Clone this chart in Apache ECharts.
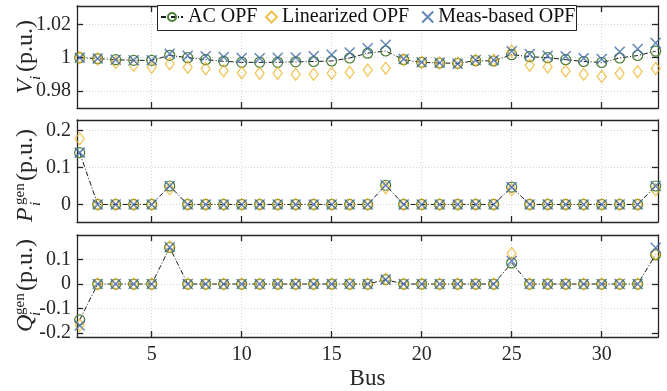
<!DOCTYPE html>
<html><head><meta charset="utf-8">
<script src="https://cdn.jsdelivr.net/npm/echarts@6/dist/echarts.min.js"></script>
<style>html,body{margin:0;padding:0;background:#fff}#c{width:667px;height:391px}</style>
</head><body><div id="c"></div>
<script>
const buses = [1,2,3,4,5,6,7,8,9,10,11,12,13,14,15,16,17,18,19,20,21,22,23,24,25,26,27,28,29,30,31,32,33];
const seriesNames = ['AC OPF', 'Linearized OPF', 'Meas-based OPF'];

// Panel 1: voltage magnitude (p.u.)
const acV   = [1.0000,0.9994,0.9988,0.9984,0.9984,1.0014,1.0000,0.9988,0.9978,0.9972,0.9972,0.9972,0.9975,0.9977,0.9980,0.9998,1.0027,1.0040,0.9988,0.9972,0.9968,0.9966,0.9982,0.9980,1.0018,1.0006,1.0000,0.9988,0.9977,0.9971,0.9998,1.0013,1.0039];
const linV  = [0.9999,0.9992,0.9971,0.9954,0.9943,0.9963,0.9943,0.9933,0.9922,0.9909,0.9907,0.9906,0.9901,0.9901,0.9906,0.9912,0.9926,0.9936,0.9988,0.9972,0.9968,0.9966,0.9984,0.9984,1.0040,0.9955,0.9944,0.9920,0.9901,0.9887,0.9905,0.9915,0.9935];
const measV = [1.0000,0.9995,0.9988,0.9984,0.9984,1.0024,1.0011,1.0008,1.0004,0.9998,0.9996,1.0000,1.0001,1.0008,1.0018,1.0031,1.0056,1.0077,0.9992,0.9973,0.9969,0.9964,0.9986,0.9986,1.0038,1.0022,1.0012,1.0008,0.9996,0.9992,1.0036,1.0052,1.0088];

// Panel 2: active generation (p.u.)
const acP   = [0.1405,0,0,0,0,0.050,0,0,0,0,0,0,0,0,0,0,0,0.052,0,0,0,0,0,0,0.047,0,0,0,0,0,0,0,0.050];
const linP  = [0.178,0,0,0,0,0.042,0,0,0,0,0,0,0,0,0,0,0,0.045,0,0,0,0,0,0,0.040,0,0,0,0,0,0,0,0.040];
const measP = [0.1405,0,0,0,0,0.050,0,0,0,0,0,0,0,0,0,0,0,0.052,0,0,0,0,0,0,0.047,0,0,0,0,0,0,0,0.050];

// Panel 3: reactive generation (p.u.)
const acQ   = [-0.146,0,0,0,0,0.149,0,0,0,0,0,0,0,0,0,0,0,0.018,0,0,0,0,0,0,0.086,0,0,0,0,0,0,0,0.120];
const linQ  = [-0.168,0,0,0,0,0.152,0,0,0,0,0,0,0,0,0,0,0,0.020,0,0,0,0,0,0,0.125,0,0,0,0,0,0,0,0.122];
const measQ = [-0.169,0,0,0,0,0.150,0,0,0,0,0,0,0,0,0,0,0,0.018,0,0,0,0,0,0,0.094,0,0,0,0,0,0,0,0.148];

const xTicks = [5,10,15,20,25,30];
const yTicks = [[0.98,1,1.02],[0,0.1,0.2],[-0.2,-0.1,0,0.1]];
const yRanges = [[0.9698,1.031],[-0.0476,0.229],[-0.216,0.2]];
const xRange = [0.85,33.13];

const FONT = 'Liberation Serif';
const AX = '#262626';
const GREEN = '#4a7f35', GOLD = '#EDB120', BLUE = '#3d68a6';
const gridTops = [6,120,235];

const grids = gridTops.map(t => ({left:77, top:t, width:581, height:102}));
const lineStyle = {color:AX, width:1.3};
const splitStyle = {show:true, lineStyle:{color:'#d4d4d4', width:1, type:[1,2]}};

const xAxes = [], yAxes = [];
gridTops.forEach((t,gi) => {
  xAxes.push({type:'value', gridIndex:gi, min:xRange[0], max:xRange[1], position:'bottom',
    axisLine:{show:true, onZero:false, lineStyle},
    axisTick:{show:true, inside:true, length:6, customValues:xTicks, lineStyle},
    axisLabel:{show:gi===2, customValues:xTicks, color:AX, fontFamily:FONT, fontSize:20, margin:8},
    splitLine:splitStyle,
    name: gi===2 ? 'Bus' : '', nameLocation:'middle', nameGap:30,
    nameTextStyle:{fontFamily:FONT, fontSize:23, color:AX}});
  xAxes.push({type:'value', gridIndex:gi, min:xRange[0], max:xRange[1], position:'top',
    axisLine:{show:true, onZero:false, lineStyle},
    axisTick:{show:true, inside:true, length:6, customValues:xTicks, lineStyle},
    axisLabel:{show:false}, splitLine:{show:false}});
  yAxes.push({type:'value', gridIndex:gi, min:yRanges[gi][0], max:yRanges[gi][1], position:'left',
    axisLine:{show:true, onZero:false, lineStyle},
    axisTick:{show:true, inside:true, length:6, customValues:yTicks[gi], lineStyle},
    axisLabel:{show:true, customValues:yTicks[gi], color:AX, fontFamily:FONT, fontSize:20, margin:6,
      formatter: v => String(+(+v).toFixed(2))},
    splitLine:splitStyle});
  yAxes.push({type:'value', gridIndex:gi, min:yRanges[gi][0], max:yRanges[gi][1], position:'right',
    axisLine:{show:true, onZero:false, lineStyle},
    axisTick:{show:true, inside:true, length:6, customValues:yTicks[gi], lineStyle},
    axisLabel:{show:false}, splitLine:{show:false}});
});

const panels = [[acV,linV,measV],[acP,linP,measP],[acQ,linQ,measQ]];
const XPATH = 'path://M0 0L10 10M10 0L0 10';
const series = [];
panels.forEach((p,gi) => {
  const xi = gi*2, yi = gi*2;
  series.push({name:seriesNames[0], type:'line', xAxisIndex:xi, yAxisIndex:yi,
    data: buses.map((b,i)=>[b,p[0][i]]), symbol:'circle', symbolSize:10, showAllSymbol:true,
    itemStyle:{color:'transparent', borderColor:GREEN, borderWidth:1.2},
    lineStyle:{color:'#1a1a1a', width:1, type:[5,2,1,2]}, z:2, animation:false});
  series.push({name:seriesNames[1], type:'scatter', xAxisIndex:xi, yAxisIndex:yi,
    data: buses.map((b,i)=>[b,p[1][i]]), symbol:'diamond', symbolSize:[9,12],
    itemStyle:{color:'transparent', borderColor:GOLD, borderWidth:1.2}, z:3, animation:false});
  series.push({name:seriesNames[2], type:'scatter', xAxisIndex:xi, yAxisIndex:yi,
    data: buses.map((b,i)=>[b,p[2][i]]), symbol:XPATH, symbolSize:10,
    itemStyle:{color:'transparent', borderColor:BLUE, borderWidth:1.5}, z:4, animation:false});
});

function title(letter, gen, gx, gy) {
  const ch = [
    {type:'text', x:0, y:0, style:{text:letter, font:'italic 24px "'+FONT+'"', fill:AX, align:'left', verticalAlign:'bottom'}},
    {type:'text', x:gen?16:14, y:6, style:{text:'i', font:'italic 15px "'+FONT+'"', fill:AX, align:'left', verticalAlign:'bottom'}},
  ];
  if (gen) ch.push({type:'text', x:17, y:-10, style:{text:'gen', font:'15px "'+FONT+'"', fill:AX, align:'left', verticalAlign:'bottom'}});
  ch.push({type:'text', x:gen?41:22, y:0, style:{text:'(p.u.)', font:'24px "'+FONT+'"', fill:AX, align:'left', verticalAlign:'bottom'}});
  return {type:'group', x:gx, y:gy, rotation:Math.PI/2, children:ch};
}

const legendText = {fontFamily:FONT, fontSize:20, color:'#111'};
const chart = echarts.init(document.getElementById('c'), null, {renderer:'canvas'});
chart.setOption({
  animation:false,
  backgroundColor:'#fff',
  grid: grids,
  xAxis: xAxes,
  yAxis: yAxes,
  legend: [
    {data:[seriesNames[0]], left:160, top:7, padding:0, itemWidth:22, itemHeight:10,
      textStyle:legendText, z:10, selectedMode:false},
    {data:[seriesNames[1], seriesNames[2]], left:265, top:7, padding:0, itemGap:12, itemWidth:11, itemHeight:11,
      textStyle:legendText, z:10, selectedMode:false}
  ],
  graphic: [
    {type:'rect', z:8, shape:{x:157.5, y:5.5, width:419, height:25}, style:{fill:'#fff', stroke:'#222', lineWidth:1}},
    title('V',false,38,94), title('P',true,38,222), title('Q',true,38,332)
  ],
  series
});
</script></body></html>
